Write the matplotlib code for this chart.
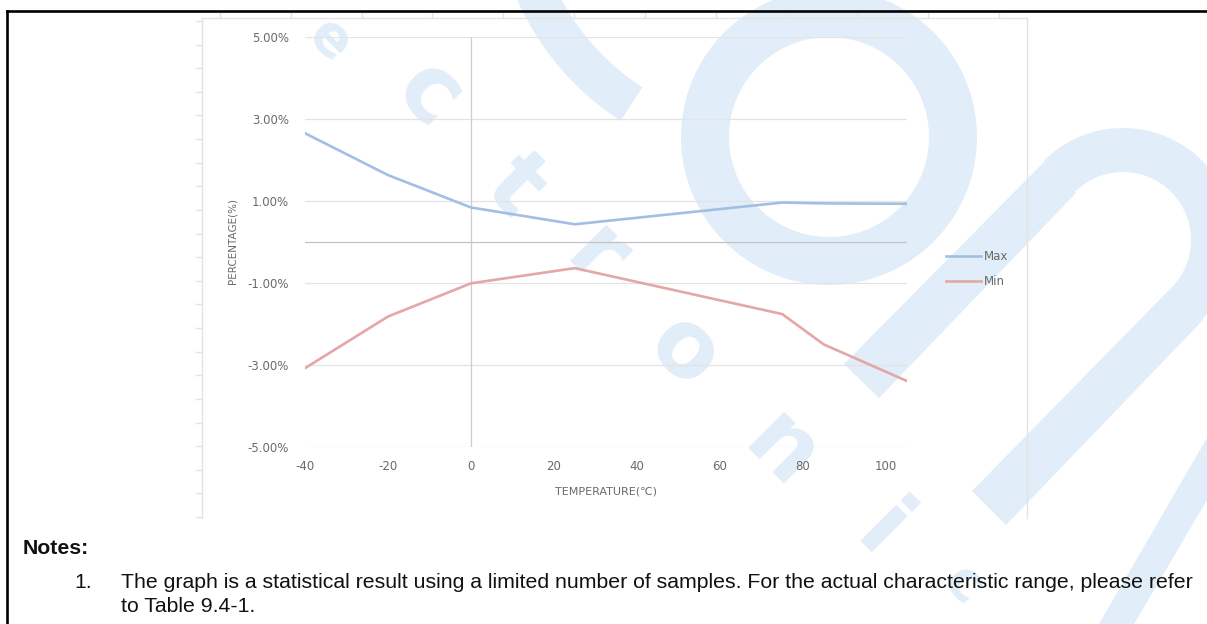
import numpy as np
import matplotlib
matplotlib.use("Agg")
import matplotlib.pyplot as plt
from matplotlib.patches import Polygon
from matplotlib.lines import Line2D

# data
temps = [-40, -20, 0, 25, 75, 85, 105]
max_pct = [2.64, 1.62, 0.83, 0.42, 0.95, 0.93, 0.92]
min_pct = [-3.09, -1.83, -1.02, -0.65, -1.77, -2.51, -3.40]
x_ticks = [-40, -20, 0, 20, 40, 60, 80, 100]
y_ticks = [-5, -3, -1, 1, 3, 5]
series_names = ["Max", "Min"]
note_lines = [
    "The graph is a statistical result using a limited number of samples. For the actual characteristic range, please refer",
    "to Table 9.4-1.",
]

W, H = 1207, 624
plt.rcParams["axes.unicode_minus"] = False
fig = plt.figure(figsize=(W / 100, H / 100), dpi=100)

WM = "#e1edf8"


def px(x, y):
    # pixel (from top left) -> figure fraction
    return x / W, 1 - y / H


def band(cx, cy, r_out, r_in, a0, a1, n=120):
    t = np.radians(np.linspace(a0, a1, n))
    xs = np.concatenate([cx + r_out * np.cos(t), cx + r_in * np.cos(t[::-1])])
    ys = np.concatenate([cy + r_out * np.sin(t), cy + r_in * np.sin(t[::-1])])
    return np.column_stack([xs / W, 1 - ys / H])


def quad(pts):
    return np.array([px(x, y) for x, y in pts])


# watermark in the background
shapes = [
    band(829, 137, 148, 100, 0, 360),
    band(773, -114, 280, 240, 123, 170),
    quad([(1045, 161), (1076, 193), (879, 398), (844, 364)]),
    band(1123, 240, 112, 68, 225, 405),
    quad([(1171, 288), (1203, 320), (1006, 525), (972, 491)]),
    quad([(1207, 438), (1207, 500), (1134, 624), (1099, 624)]),
]
for s in shapes:
    fig.add_artist(Polygon(s, closed=True, facecolor=WM, edgecolor="none",
                           transform=fig.transFigure, zorder=-5))

letters = [("e", 330, 40, 40), ("c", 428, 95, 66), ("t", 515, 187, 66),
           ("r", 596, 258, 66), ("o", 683, 352, 66), ("n", 781, 452, 66),
           ("i", 880, 533, 66), ("c", 964, 585, 40)]
for ch, x, y, size in letters:
    fx, fy = px(x, y)
    fig.text(fx, fy, ch, fontsize=size, fontweight="bold", color=WM,
             rotation=-45, rotation_mode="anchor", ha="center", va="center",
             zorder=-4)

# drawing-canvas frame with ruler ticks
fc = "#e3e3e3"
for a, b in [((202, 18), (202, 518)), ((202, 18), (1027, 18)), ((1027, 18), (1027, 518))]:
    p0, p1 = px(*a), px(*b)
    fig.add_artist(Line2D([p0[0], p1[0]], [p0[1], p1[1]], color=fc, lw=1,
                          transform=fig.transFigure, zorder=-3))
for yy in np.linspace(21, 517, 22):
    p0, p1 = px(196, yy), px(202, yy)
    fig.add_artist(Line2D([p0[0], p1[0]], [p0[1], p1[1]], color=fc, lw=1,
                          transform=fig.transFigure, zorder=-3))
for xx in np.arange(220, 1020, 70.8):
    p0, p1 = px(xx, 13), px(xx, 18)
    fig.add_artist(Line2D([p0[0], p1[0]], [p0[1], p1[1]], color=fc, lw=1,
                          transform=fig.transFigure, zorder=-3))

# page border
for a, b in [((7, 10.5), (1207, 10.5)), ((7, 10.5), (7, 624))]:
    p0, p1 = px(*a), px(*b)
    fig.add_artist(Line2D([p0[0], p1[0]], [p0[1], p1[1]], color="black", lw=1.9,
                          transform=fig.transFigure, zorder=5))

# chart
x0, x1 = 305, 906.7
y_top, y_bot = 36.5, 446.5
ax = fig.add_axes([x0 / W, 1 - y_bot / H, (x1 - x0) / W, (y_bot - y_top) / H])
ax.set_facecolor("none")
ax.set_xlim(-40, 105)
ax.set_ylim(-5, 5)
ax.set_xticks(x_ticks)
ax.set_yticks(y_ticks)
ax.set_yticklabels([f"{v:.2f}%" for v in y_ticks])
for sp in ax.spines.values():
    sp.set_visible(False)
ax.grid(axis="y", color="#e4e4e4", lw=0.9)
ax.axhline(0, color="#c4c4c4", lw=0.9)
ax.axvline(0, color="#cdcdcd", lw=0.9)
ax.tick_params(axis="both", length=0, labelsize=8.5, labelcolor="#6a6a6a")
ax.tick_params(axis="y", pad=11.5)
ax.tick_params(axis="x", pad=9.5)

ax.plot(temps, max_pct, color="#a2bfe3", lw=1.9, label=series_names[0], solid_joinstyle="round")
ax.plot(temps, min_pct, color="#e4a6a6", lw=1.9, label=series_names[1], solid_joinstyle="round")

ax.set_xlabel("TEMPERATURE(℃)", fontsize=8, color="#6a6a6a", va="center")
ax.xaxis.set_label_coords(0.5, (y_bot - 491) / (y_bot - y_top))
ax.set_ylabel("PERCENTAGE(%)", fontsize=7.5, color="#6a6a6a", va="center", ha="center")
ax.yaxis.set_label_coords((232.7 - x0) / (x1 - x0), 0.5)

lx, ly = px(945.7, 250)
ax.legend(loc="upper left", bbox_to_anchor=(lx, ly), bbox_transform=fig.transFigure,
          frameon=False, fontsize=8.5, labelcolor="#6a6a6a", handlelength=3.0,
          handletextpad=0.2, labelspacing=1.05, borderpad=0, borderaxespad=0)

# notes under the chart
fs = 15.3
fig.text(*px(23, 548), "Notes:", fontsize=fs, fontweight="bold",
         family="Liberation Sans", va="center", ha="left", color="#111111")
fig.text(*px(74, 583), "1.", fontsize=fs, family="Liberation Sans",
         va="center", ha="left", color="#111111")
fig.text(*px(121, 583), note_lines[0], fontsize=fs, family="Liberation Sans",
         va="center", ha="left", color="#111111")
fig.text(*px(121, 606), note_lines[1], fontsize=fs, family="Liberation Sans",
         va="center", ha="left", color="#111111")

fig.savefig("out.png", dpi=100)
